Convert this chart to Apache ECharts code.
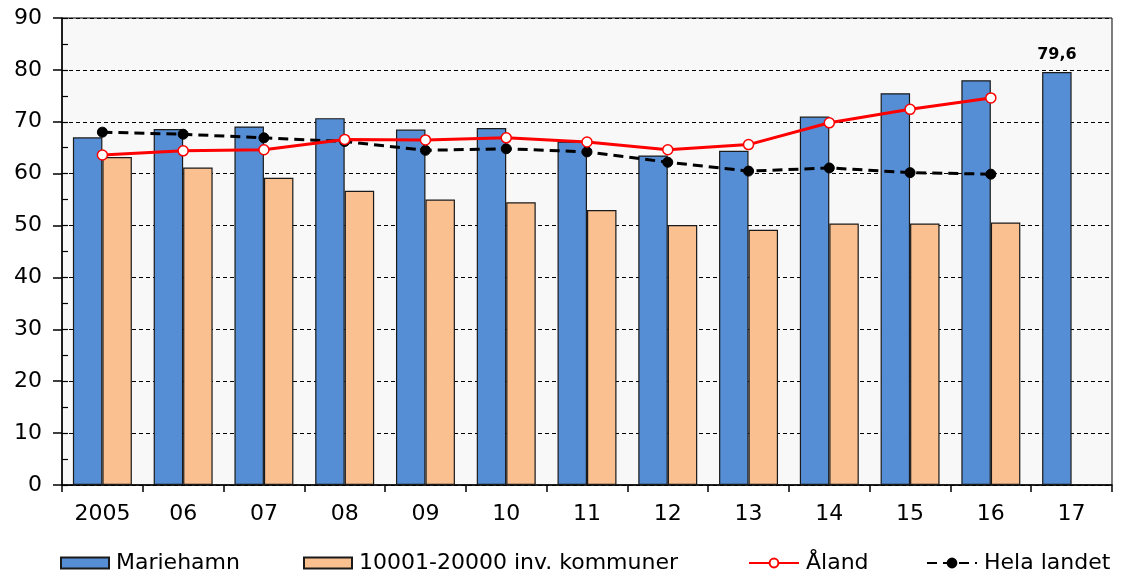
<!DOCTYPE html>
<html>
<head>
<meta charset="utf-8">
<script src="https://cdn.jsdelivr.net/npm/echarts@6/dist/echarts.min.js"></script>
<style>
html,body{margin:0;padding:0;background:#fff;}
#c{width:1121px;height:578px;}
</style>
</head>
<body>
<div id="c"></div>
<script>
var categories = ['2005','06','07','08','09','10','11','12','13','14','15','16','17'];
var mariehamn = [67.0, 68.6, 69.1, 70.7, 68.5, 68.8, 66.2, 63.5, 64.4, 71.0, 75.5, 78.0, 79.6];
var kommuner = [63.2, 61.2, 59.2, 56.7, 55.0, 54.5, 53.0, 50.1, 49.2, 50.4, 50.4, 50.6, null];
var aland = [63.6, 64.4, 64.6, 66.6, 66.5, 66.9, 66.1, 64.6, 65.6, 69.8, 72.4, 74.6, null];
var helaLandet = [68.0, 67.6, 66.9, 66.2, 64.5, 64.8, 64.2, 62.2, 60.5, 61.1, 60.2, 59.9, null];
var yTicks = [0,10,20,30,40,50,60,70,80,90];

var FONT = 'DejaVu Sans';
var chart = echarts.init(document.getElementById('c'), null, {renderer:'canvas'});

var mData = mariehamn.map(function(v,i){
  if (i === mariehamn.length-1) {
    return {value:v, label:{show:true, position:'top', distance:9,
      formatter:function(p){return String(p.value).replace('.',',');},
      fontFamily:FONT, fontWeight:'bold', fontSize:16, color:'#000'}};
  }
  return v;
});

function legendAt(x, name, w, icon){
  var l = {show:true, left:x, top:552, data:[name], itemWidth:w||48, itemHeight:11,
    itemGap:0, padding:0, textStyle:{fontFamily:FONT, fontSize:22, color:'#000', padding:[0,0,0,2]},
    selectedMode:false};
  if (icon) l.icon = icon;
  return l;
}

var option = {
  animation:false,
  backgroundColor:'#ffffff',
  grid:{left:62, right:9, top:18, bottom:93, show:true, backgroundColor:'#f8f8f8', borderColor:'#000', borderWidth:1},
  legend:[
    legendAt(60,'Mariehamn',48,'rect'),
    legendAt(303,'10001-20000 inv. kommuner',48,'rect'),
    legendAt(748,'Åland',50),
    legendAt(926,'Hela landet',50)
  ],
  xAxis:{
    type:'category', data:categories,
    axisLine:{show:true, lineStyle:{color:'#000', width:1.5}},
    axisTick:{show:true, length:7, lineStyle:{color:'#000', width:1.5}},
    axisLabel:{interval:0, margin:18, fontFamily:FONT, fontSize:22, color:'#000'},
    splitLine:{show:false}
  },
  yAxis:[{
    type:'value', min:0, max:90, interval:10,
    axisLine:{show:true, lineStyle:{color:'#000', width:1.5}},
    axisTick:{show:true, length:9, lineStyle:{color:'#000', width:1.5}},
    axisLabel:{margin:20, fontFamily:FONT, fontSize:22, color:'#000',
      formatter:function(v){return yTicks.indexOf(v)>=0 ? String(v) : '';}},
    splitLine:{show:true, lineStyle:{color:'#000', width:1, type:[4,3]}}
  },{
    type:'value', min:0, max:90, interval:5, position:'left',
    axisLine:{show:false},
    axisTick:{show:true, inside:true, length:6, lineStyle:{color:'#000', width:1.2}},
    axisLabel:{show:false},
    splitLine:{show:false}
  }],
  series:[
    {name:'Mariehamn', type:'bar', data:mData, barGap:'0%', barCategoryGap:'27%',
      itemStyle:{color:'#558ed5', borderColor:'#1a1a1a', borderWidth:1.2}, z:2},
    {name:'10001-20000 inv. kommuner', type:'bar', data:kommuner,
      itemStyle:{color:'#fac090', borderColor:'#1a1a1a', borderWidth:1.2}, z:2},
    {name:'Åland', type:'line', data:aland, symbol:'circle', symbolSize:10,
      lineStyle:{color:'#ff0000', width:3},
      itemStyle:{color:'#ffffff', borderColor:'#ff0000', borderWidth:1.5}, z:5},
    {name:'Hela landet', type:'line', data:helaLandet, symbol:'circle', symbolSize:10,
      lineStyle:{color:'#000', width:3, type:[10,6]},
      itemStyle:{color:'#000', borderColor:'#000', borderWidth:1}, z:4}
  ]
};
chart.setOption(option);
</script>
</body>
</html>
